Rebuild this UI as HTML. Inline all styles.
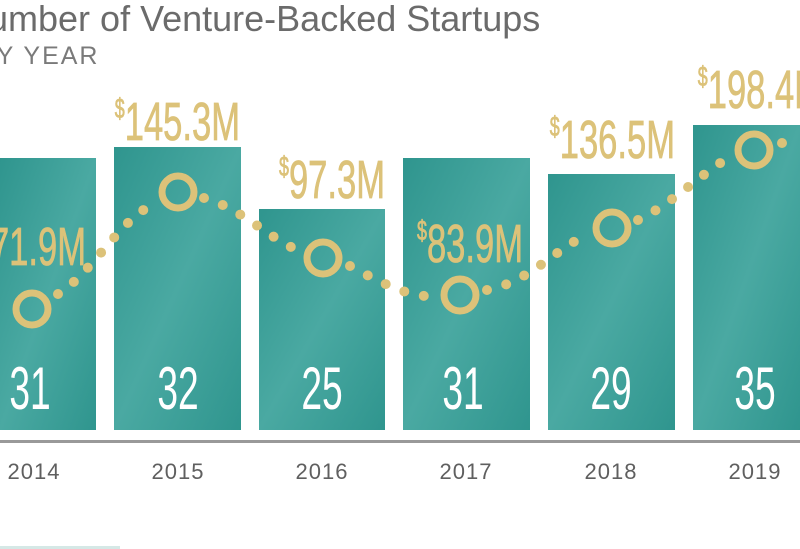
<!DOCTYPE html>
<html><head><meta charset="utf-8"><style>
html,body{margin:0;padding:0;background:#fff;width:800px;height:549px;overflow:hidden}
svg{display:block}
.t{font-family:"Liberation Sans",sans-serif}
.n{font-family:"Liberation Sans Narrow","Liberation Sans",sans-serif}
</style></head><body>
<svg width="800" height="549" viewBox="0 0 800 549">
<defs>
<linearGradient id="g" x1="0" y1="0" x2="1" y2="1">
<stop offset="0" stop-color="#2f958e"/><stop offset="0.5" stop-color="#4aa9a2"/><stop offset="1" stop-color="#2f958e"/>
</linearGradient>
</defs>
<text x="-38" y="31" class="t" font-size="36" fill="#6b6b6b">Number of Venture-Backed Startups</text>
<text x="-22" y="64" class="t" font-size="25" fill="#7a7a7a" letter-spacing="2">BY YEAR</text>
<g fill="url(#g)">
<rect x="0" y="158" width="96" height="272"/>
<rect x="114" y="147" width="127" height="283"/>
<rect x="259" y="209" width="126" height="221"/>
<rect x="403" y="158" width="127" height="272"/>
<rect x="548" y="174" width="127" height="256"/>
<rect x="693" y="125" width="107" height="305"/>
</g>
<rect x="0" y="440" width="800" height="3" fill="#999"/>
<rect x="0" y="546" width="120" height="3" fill="#d5e8e6"/>
<g fill="none" stroke="#dcc279" stroke-width="10" stroke-linecap="round" stroke-dasharray="0 20">
<path d="M58,294 C90,275 120,220 152,205"/>
<path d="M204,198 C240,208 265,235 297,250"/>
<path d="M350,266 C380,282 410,298 434,296"/>
<path d="M487,290 C530,282 560,245 586,236"/>
<path d="M638,220 C670,205 700,175 728,158"/>
<path d="M782,143 L800,138"/>
</g>
<g fill="none" stroke="#dcc279" stroke-width="7">
<circle cx="32" cy="309" r="16"/><circle cx="178" cy="192" r="16"/><circle cx="323" cy="258" r="16"/>
<circle cx="460" cy="295" r="16"/><circle cx="612" cy="228" r="16"/><circle cx="754" cy="150" r="16"/>
</g>
<g class="n" fill="#dcc279" font-size="54" text-anchor="end" stroke="#dcc279" stroke-width="0.8">
<text transform="translate(86 265) scale(0.64 1)"><tspan font-size="28" dy="-22">$</tspan><tspan dy="22">71.9M</tspan></text>
<text transform="translate(240 140) scale(0.64 1)"><tspan font-size="28" dy="-22">$</tspan><tspan dy="22">145.3M</tspan></text>
<text transform="translate(385 198) scale(0.64 1)"><tspan font-size="28" dy="-22">$</tspan><tspan dy="22">97.3M</tspan></text>
<text transform="translate(523 262) scale(0.64 1)"><tspan font-size="28" dy="-22">$</tspan><tspan dy="22">83.9M</tspan></text>
<text transform="translate(675 158) scale(0.64 1)"><tspan font-size="28" dy="-22">$</tspan><tspan dy="22">136.5M</tspan></text>
<text transform="translate(823 108) scale(0.64 1)"><tspan font-size="28" dy="-22">$</tspan><tspan dy="22">198.4M</tspan></text>
</g>
<g class="n" fill="#fff" font-size="60" text-anchor="middle">
<text transform="translate(30 409) scale(0.62 1)">31</text>
<text transform="translate(178 409) scale(0.62 1)">32</text>
<text transform="translate(322 409) scale(0.62 1)">25</text>
<text transform="translate(463 409) scale(0.62 1)">31</text>
<text transform="translate(611 409) scale(0.62 1)">29</text>
<text transform="translate(755 409) scale(0.62 1)">35</text>
</g>
<g class="t" fill="#5f5f5f" font-size="22" text-anchor="middle" letter-spacing="1">
<text x="34" y="479">2014</text><text x="178" y="479">2015</text><text x="322" y="479">2016</text>
<text x="466" y="479">2017</text><text x="611" y="479">2018</text><text x="755" y="479">2019</text>
</g>
</svg>
</body></html>
